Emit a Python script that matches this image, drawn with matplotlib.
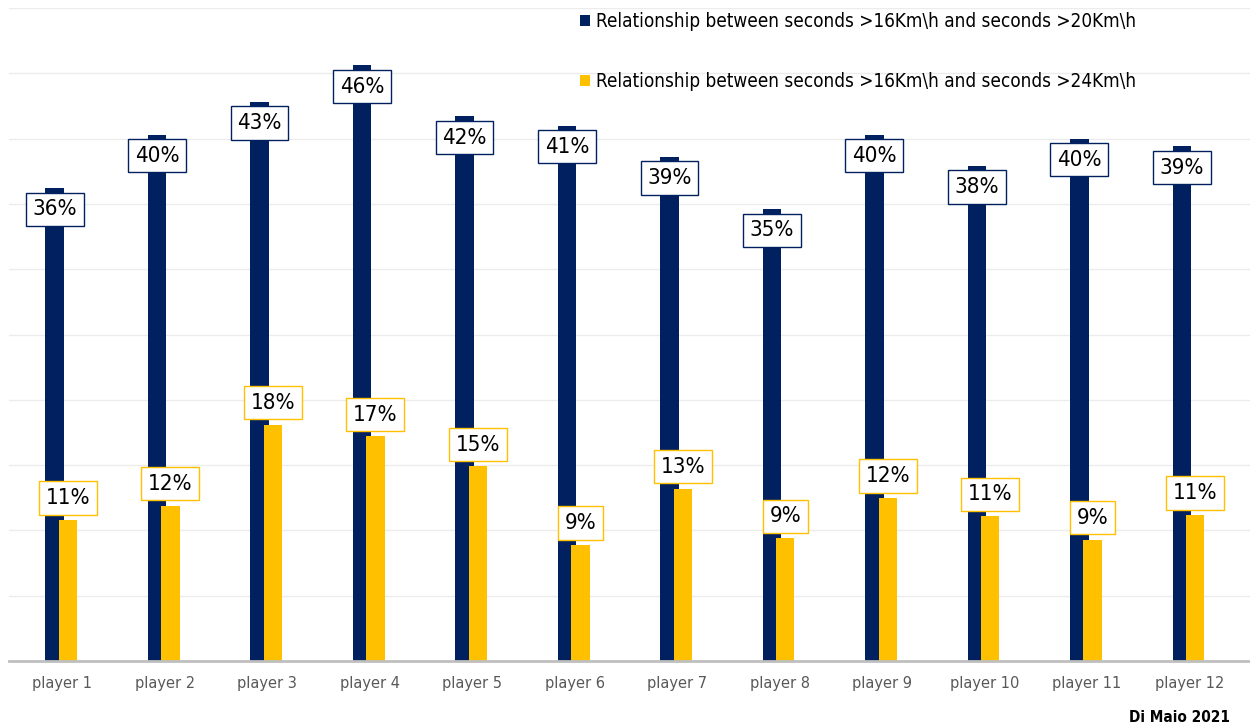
import matplotlib.pyplot as plt
import numpy as np

# Spielerdaten (Anteile in %)
players = [f"player {i}" for i in range(1, 13)]
ratio_20 = [36.2, 40.3, 42.8, 45.6, 41.7, 41.0, 38.6, 34.6, 40.3, 37.9, 40.0, 39.4]
ratio_24 = [10.8, 11.9, 18.1, 17.2, 14.9, 8.9, 13.2, 9.4, 12.5, 11.1, 9.3, 11.2]
series_names = ["Relationship between seconds >16Km\\h and seconds >20Km\\h",
                "Relationship between seconds >16Km\\h and seconds >24Km\\h"]

NAVY = "#002060"
GOLD = "#FFC000"
LABEL_FONT = dict(family="DejaVu Sans", stretch="condensed")

fig = plt.figure(figsize=(12.5, 7.27), dpi=100)
ax = fig.add_axes([9 / 1250, 66 / 727, 1241 / 1250, 653 / 727])

x = np.arange(len(players))
w = 0.18
b1 = ax.bar(x - 0.075, ratio_20, w, color=NAVY, zorder=2, label=series_names[0])
b2 = ax.bar(x + 0.055, ratio_24, w, color=GOLD, zorder=3, label=series_names[1])

# Wertelabels: dunkle Serie innen am Balkenende, gelbe Serie darüber
for rect, v in zip(b1, ratio_20):
    ax.annotate(f"{v:.0f}%", (rect.get_x() + rect.get_width() / 2, v),
                xytext=(0, -8), textcoords="offset points", ha="center", va="top",
                fontsize=16, color="black", zorder=5, **LABEL_FONT,
                bbox=dict(boxstyle="square,pad=0.3", fc="white", ec=NAVY, lw=1))
for rect, v in zip(b2, ratio_24):
    ax.annotate(f"{v:.0f}%", (rect.get_x() + rect.get_width() / 2, v),
                xytext=(0, 8.5), textcoords="offset points", ha="center", va="bottom",
                fontsize=16, color="black", zorder=5, **LABEL_FONT,
                bbox=dict(boxstyle="square,pad=0.3", fc="white", ec=GOLD, lw=1))

ax.set_ylim(0, 50)
ax.set_xlim(-0.52, 11.59)
ax.set_yticks(np.arange(0, 51, 5))
ax.yaxis.grid(True, color="#ececec", lw=1, zorder=0)
ax.tick_params(axis="y", left=False, labelleft=False)
ax.tick_params(axis="x", length=0, pad=11, labelsize=10.5, labelcolor="#595959")
ax.set_xticks(x)
ax.set_xticklabels(players)
for s in ["top", "right", "left"]:
    ax.spines[s].set_visible(False)
ax.spines["bottom"].set_color("#bfbfbf")
ax.spines["bottom"].set_linewidth(2)
ax.spines["bottom"].set_zorder(4)

leg = ax.legend(loc="upper left", bbox_to_anchor=(563 / 1250, 1 + 5 / 727),
                bbox_transform=fig.transFigure, frameon=False,
                handlelength=0.55, handleheight=0.55, handletextpad=0.3,
                labelspacing=2.17, prop=dict(size=13.6, **LABEL_FONT))

fig.text(1230 / 1250, 1 - 718 / 727, "Di Maio 2021", ha="right", va="center",
         fontsize=11, fontweight="bold", **LABEL_FONT)

fig.savefig("out.png", dpi=100)
